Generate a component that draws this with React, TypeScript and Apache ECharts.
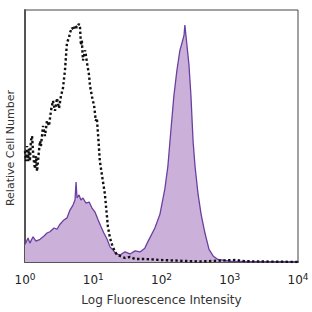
import React, { useEffect, useRef } from "react";
import * as echarts from "echarts";

const controlIntensity = [1.0, 1.03, 1.07, 1.11, 1.14, 1.18, 1.22, 1.27, 1.31, 1.35, 1.4, 1.45, 1.5, 1.55, 1.6, 1.66, 1.71, 1.84, 1.96, 2.1, 2.25, 2.4, 2.57, 2.75, 2.94, 3.15, 3.37, 3.6, 3.85, 4.12, 4.41, 4.56, 4.88, 5.22, 5.4, 5.78, 6.18, 6.4, 6.6, 6.8, 7.07, 7.6, 8.1, 8.7, 8.95, 9.6, 10.3, 10.9, 11.3, 11.8, 12.5, 13.4, 14.8, 16.4, 17.6, 18.8, 20.8, 22.3, 24.6, 29.2, 34.5, 41, 57, 95, 366, 1200, 1680, 10000];
const controlCount = [44, 40, 46, 40, 45, 40, 48, 50, 44, 40, 37, 42, 36, 40, 44, 48, 46, 54, 50, 56, 54, 60, 64, 60, 65, 61, 66, 69, 76, 87, 89, 91, 93, 92, 94, 93, 94.5, 93, 86, 88, 80, 84, 79, 74, 70, 65.5, 62, 56, 57, 50, 40, 34.5, 27, 14, 9.5, 7, 4, 3, 2.4, 1.6, 2, 1.2, 1.2, 0.8, 0.2, 0.8, 0.3, 0];

const stainedIntensity = [1.0, 1.11, 1.18, 1.31, 1.45, 1.66, 1.9, 2.1, 2.32, 2.66, 2.94, 3.26, 3.72, 4.12, 4.56, 5.05, 5.4, 5.6, 5.78, 6.18, 6.6, 7.07, 7.8, 8.7, 9.6, 10.6, 11.8, 13, 14.3, 15.9, 17.6, 19.4, 21.5, 24.6, 29.2, 34.5, 41, 48.4, 57, 63, 80, 95, 112, 124, 137, 152, 168, 186, 200, 214, 220, 236, 253, 270, 290, 310, 343, 380, 433, 497, 570, 670, 1000, 2800, 10000];
const stainedCount = [7, 9.5, 7.5, 10, 8.3, 9, 10.3, 11.5, 12, 13.5, 13, 15, 16.7, 17.5, 20.6, 22.6, 24.6, 31.7, 25.4, 26.6, 24.6, 25.4, 23.4, 23.8, 21.4, 19.8, 16.7, 14, 11.5, 9.1, 6, 4.8, 3.2, 2.8, 4, 3.2, 4.4, 4, 5.5, 8, 13.5, 19, 29, 38, 52, 66, 76, 84, 87, 90, 94, 86, 78, 66, 48, 38, 27, 19, 11.5, 5, 2.4, 1, 0.3, 0, 0];

const xTickExponents = ["0", "1", "2", "3", "4"];
const xTitle = "Log Fluorescence Intensity";
const yTitle = "Relative Cell Number";

export default function App() {
  const ref = useRef<HTMLDivElement>(null);
  useEffect(() => {
    if (!ref.current) return;
    const chart = echarts.init(ref.current, null, { renderer: "svg" });
    const font = "DejaVu Sans";
    chart.setOption({
      animation: false,
      backgroundColor: "#ffffff",
      grid: {
        left: 25,
        right: 14,
        top: 10,
        bottom: 50,
        show: true,
        borderColor: "#444",
        borderWidth: 1,
      },
      graphic: [
        {
          type: "text",
          x: 10,
          y: 148,
          rotation: Math.PI / 2,
          style: {
            text: yTitle,
            fontFamily: font,
            fontSize: 11,
            fill: "#333",
            textAlign: "center",
            textVerticalAlign: "middle",
          },
        },
      ],
      xAxis: {
        type: "log",
        logBase: 10,
        min: 1,
        max: 10000,
        name: xTitle,
        nameLocation: "middle",
        nameGap: 32,
        nameTextStyle: { fontFamily: font, fontSize: 12, color: "#333" },
        axisLine: { show: true, lineStyle: { color: "#555", width: 2 } },
        axisTick: { show: false },
        splitLine: { show: false },
        minorTick: { show: false },
        axisLabel: {
          margin: 10,
          formatter: (v: number) => {
            const i = Math.round(Math.log10(v));
            return `{b|10}{s|${xTickExponents[i] ?? i}}`;
          },
          rich: {
            b: { fontFamily: font, fontSize: 12, color: "#222" },
            s: { fontFamily: font, fontSize: 9, color: "#222", padding: [0, 0, 7, 0] },
          },
        },
      },
      yAxis: {
        type: "value",
        min: 0,
        max: 100,
        axisLine: { show: true, lineStyle: { color: "#555", width: 2 } },
        axisTick: { show: false },
        axisLabel: { show: false },
        splitLine: { show: false },
      },
      series: [
        {
          type: "line",
          data: stainedIntensity.map((x, i) => [x, stainedCount[i]]),
          showSymbol: false,
          lineStyle: { color: "#6a3fa0", width: 1.3 },
          areaStyle: { color: "#cbb0da", opacity: 1 },
          z: 2,
        },
        {
          type: "line",
          data: controlIntensity.map((x, i) => [x, controlCount[i]]),
          showSymbol: false,
          lineStyle: { color: "#111", width: 2.4, type: "dotted" },
          z: 3,
        },
      ],
    });
    return () => chart.dispose();
  }, []);
  return (
    <div
      ref={ref}
      style={{ position: "fixed", left: 0, top: 0, width: 312, height: 312 }}
    />
  );
}
